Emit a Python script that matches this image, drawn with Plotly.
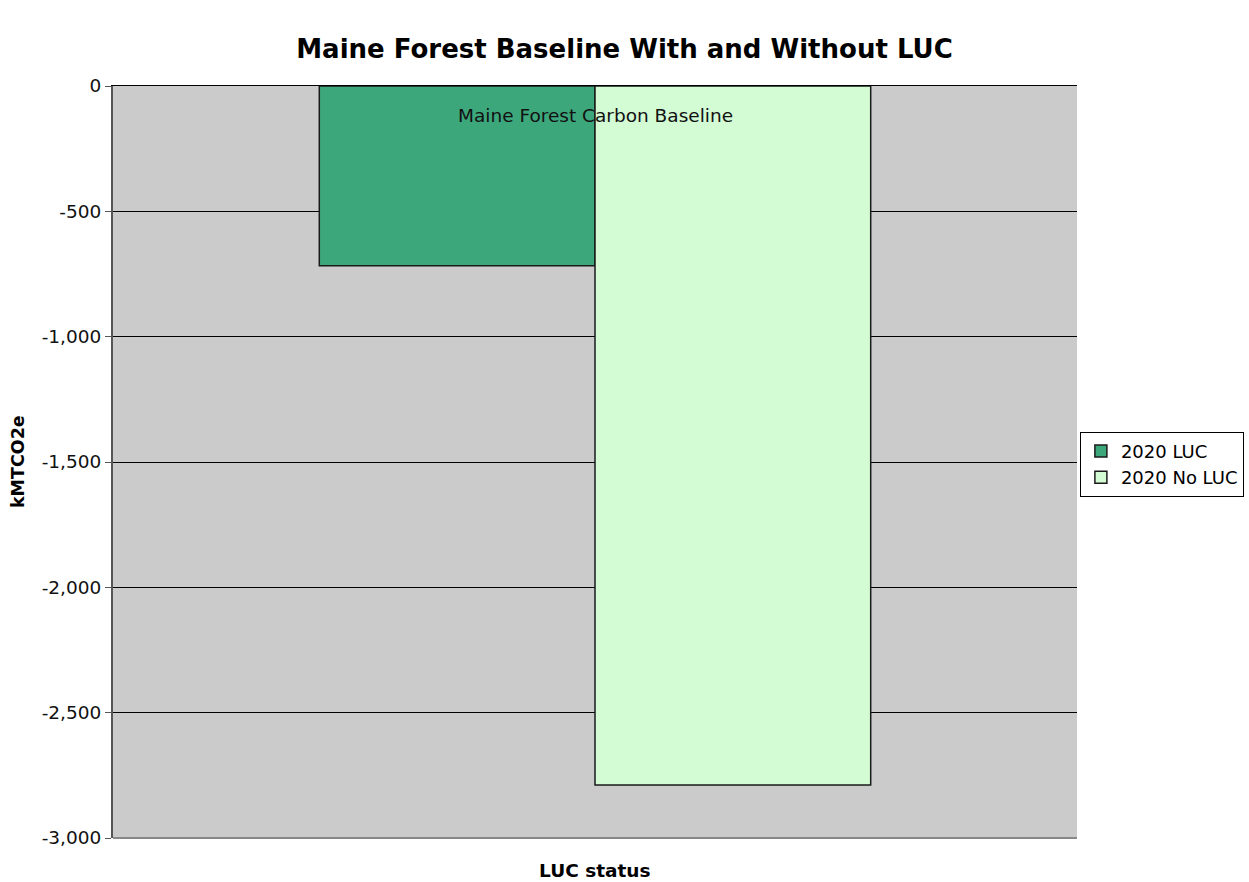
import plotly.graph_objects as go

categories = ["Maine Forest Carbon Baseline"]
series_names = ["2020 LUC", "2020 No LUC"]
values_luc = [-717]
values_noluc = [-2789]
tick_vals = [0, -500, -1000, -1500, -2000, -2500, -3000]
tick_text = ["0", "-500", "-1,000", "-1,500", "-2,000", "-2,500", "-3,000"]

FONT = "DejaVu Sans, Verdana, sans-serif"

fig = go.Figure()
fig.add_trace(go.Bar(x=categories, y=values_luc, name=series_names[0],
                     marker=dict(color="#3DA77C", line=dict(color="#1a1a1a", width=1.5))))
fig.add_trace(go.Bar(x=categories, y=values_noluc, name=series_names[1],
                     marker=dict(color="#D4FCD4", line=dict(color="#1a1a1a", width=1.5))))

fig.update_layout(
    width=1249, height=882,
    margin=dict(l=113, r=172, t=86, b=44, autoexpand=False),
    paper_bgcolor="white", plot_bgcolor="#CBCBCB",
    barmode="group", bargap=0.428, bargroupgap=0,
    font=dict(family=FONT, size=18, color="black"),
    title=dict(text="<b>Maine Forest Baseline With and Without LUC</b>",
               x=0.5, xanchor="center", y=0.945, yanchor="middle",
               font=dict(family=FONT, size=26, color="black")),
    showlegend=True,
    legend=dict(x=1.003, xanchor="left", y=0.497, yanchor="middle",
                bgcolor="white", bordercolor="black", borderwidth=1,
                font=dict(family=FONT, size=18), tracegroupgap=0,
                itemwidth=30),
)
fig.update_yaxes(range=[-3000, 0], tickvals=tick_vals, ticktext=tick_text,
                 showgrid=True, gridcolor="black", gridwidth=1,
                 zeroline=False, showline=True, linecolor="#555555", linewidth=2,
                 ticks="outside", ticklen=6, tickcolor="#555555",
                 tickfont=dict(family=FONT, size=18.5, color="#111111"))
fig.update_xaxes(side="top", showticklabels=False, ticks="",
                 showline=True, linecolor="black", linewidth=1, mirror=False)
# category label drawn inside the plot near the zero line, as in the original
fig.add_annotation(text=categories[0], x=categories[0], xref="x", yref="paper", y=0.9614,
                   xanchor="center", yanchor="middle", showarrow=False,
                   font=dict(family=FONT, size=18.5, color="#111111"))
fig.add_annotation(text="<b>kMTCO2e</b>", xref="paper", yref="paper", x=-0.0985, y=0.5,
                   xanchor="center", yanchor="middle", showarrow=False, textangle=-90,
                   font=dict(family=FONT, size=17.5))
fig.add_annotation(text="<b>LUC status</b>", xref="paper", yref="paper", x=0.5, y=-0.043,
                   xanchor="center", yanchor="middle", showarrow=False,
                   font=dict(family=FONT, size=18.5))
fig.add_shape(type="line", xref="paper", yref="paper", x0=0, x1=1, y0=0, y1=0,
              line=dict(color="#888888", width=2))

fig.write_html("out.html")
